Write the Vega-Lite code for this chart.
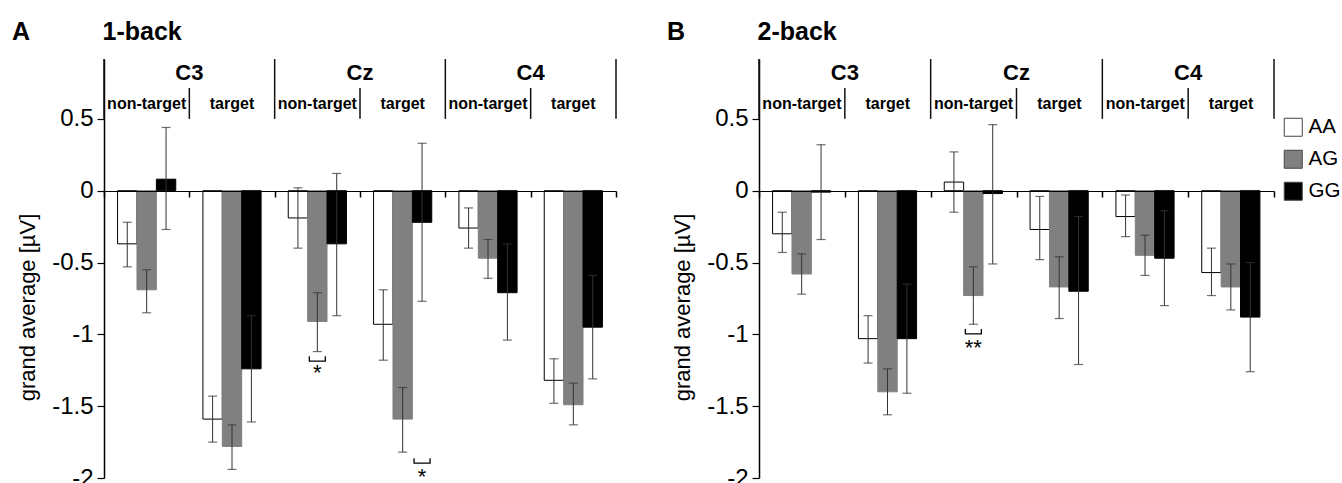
{
  "$schema": "https://vega.github.io/schema/vega-lite/v6.json",
  "padding": {"left": 12, "top": 20, "right": 0, "bottom": 0},
  "spacing": 50,
  "resolve": {"scale": {"fill": "shared", "stroke": "shared"}, "legend": {"fill": "independent"}},
  "config": {"view": {"stroke": null}, "font": "Liberation Sans", "axis": {"grid": false}},
  "datasets": {
    "bars": [
      {"panel": "A", "grp": "C3 non-target", "g": "AA", "v": -0.37, "hi": -0.22, "lo": -0.53},
      {"panel": "A", "grp": "C3 non-target", "g": "AG", "v": -0.69, "hi": -0.55, "lo": -0.85},
      {"panel": "A", "grp": "C3 non-target", "g": "GG", "v": 0.08, "hi": 0.44, "lo": -0.27},
      {"panel": "A", "grp": "C3 target", "g": "AA", "v": -1.59, "hi": -1.43, "lo": -1.75},
      {"panel": "A", "grp": "C3 target", "g": "AG", "v": -1.78, "hi": -1.63, "lo": -1.94},
      {"panel": "A", "grp": "C3 target", "g": "GG", "v": -1.24, "hi": -0.87, "lo": -1.61},
      {"panel": "A", "grp": "Cz non-target", "g": "AA", "v": -0.19, "hi": 0.02, "lo": -0.40},
      {"panel": "A", "grp": "Cz non-target", "g": "AG", "v": -0.91, "hi": -0.71, "lo": -1.12},
      {"panel": "A", "grp": "Cz non-target", "g": "GG", "v": -0.37, "hi": 0.12, "lo": -0.87},
      {"panel": "A", "grp": "Cz target", "g": "AA", "v": -0.93, "hi": -0.69, "lo": -1.18},
      {"panel": "A", "grp": "Cz target", "g": "AG", "v": -1.59, "hi": -1.37, "lo": -1.82},
      {"panel": "A", "grp": "Cz target", "g": "GG", "v": -0.22, "hi": 0.33, "lo": -0.77},
      {"panel": "A", "grp": "C4 non-target", "g": "AA", "v": -0.26, "hi": -0.12, "lo": -0.40},
      {"panel": "A", "grp": "C4 non-target", "g": "AG", "v": -0.47, "hi": -0.34, "lo": -0.61},
      {"panel": "A", "grp": "C4 non-target", "g": "GG", "v": -0.71, "hi": -0.37, "lo": -1.04},
      {"panel": "A", "grp": "C4 target", "g": "AA", "v": -1.32, "hi": -1.17, "lo": -1.48},
      {"panel": "A", "grp": "C4 target", "g": "AG", "v": -1.49, "hi": -1.34, "lo": -1.63},
      {"panel": "A", "grp": "C4 target", "g": "GG", "v": -0.95, "hi": -0.59, "lo": -1.31},
      {"panel": "B", "grp": "C3 non-target", "g": "AA", "v": -0.30, "hi": -0.15, "lo": -0.43},
      {"panel": "B", "grp": "C3 non-target", "g": "AG", "v": -0.58, "hi": -0.44, "lo": -0.72},
      {"panel": "B", "grp": "C3 non-target", "g": "GG", "v": -0.01, "hi": 0.32, "lo": -0.34},
      {"panel": "B", "grp": "C3 target", "g": "AA", "v": -1.03, "hi": -0.87, "lo": -1.20},
      {"panel": "B", "grp": "C3 target", "g": "AG", "v": -1.40, "hi": -1.24, "lo": -1.56},
      {"panel": "B", "grp": "C3 target", "g": "GG", "v": -1.03, "hi": -0.65, "lo": -1.41},
      {"panel": "B", "grp": "Cz non-target", "g": "AA", "v": 0.06, "hi": 0.27, "lo": -0.15},
      {"panel": "B", "grp": "Cz non-target", "g": "AG", "v": -0.73, "hi": -0.53, "lo": -0.93},
      {"panel": "B", "grp": "Cz non-target", "g": "GG", "v": -0.02, "hi": 0.46, "lo": -0.51},
      {"panel": "B", "grp": "Cz target", "g": "AA", "v": -0.27, "hi": -0.04, "lo": -0.48},
      {"panel": "B", "grp": "Cz target", "g": "AG", "v": -0.67, "hi": -0.46, "lo": -0.89},
      {"panel": "B", "grp": "Cz target", "g": "GG", "v": -0.70, "hi": -0.18, "lo": -1.21},
      {"panel": "B", "grp": "C4 non-target", "g": "AA", "v": -0.18, "hi": -0.03, "lo": -0.32},
      {"panel": "B", "grp": "C4 non-target", "g": "AG", "v": -0.45, "hi": -0.31, "lo": -0.59},
      {"panel": "B", "grp": "C4 non-target", "g": "GG", "v": -0.47, "hi": -0.14, "lo": -0.80},
      {"panel": "B", "grp": "C4 target", "g": "AA", "v": -0.57, "hi": -0.40, "lo": -0.73},
      {"panel": "B", "grp": "C4 target", "g": "AG", "v": -0.67, "hi": -0.51, "lo": -0.83},
      {"panel": "B", "grp": "C4 target", "g": "GG", "v": -0.88, "hi": -0.50, "lo": -1.26}
    ],
    "hdr": [
      {"grp": "C3 non-target", "electrode": "C3", "cond": "non-target"},
      {"grp": "C3 target", "electrode": "C3", "cond": "target"},
      {"grp": "Cz non-target", "electrode": "Cz", "cond": "non-target"},
      {"grp": "Cz target", "electrode": "Cz", "cond": "target"},
      {"grp": "C4 non-target", "electrode": "C4", "cond": "non-target"},
      {"grp": "C4 target", "electrode": "C4", "cond": "target"}
    ],
    "sig": [
      {"panel": "A", "grp": "Cz non-target", "g": "AG", "by": -1.17, "sy": -1.235, "txt": "*"},
      {"panel": "A", "grp": "Cz target", "g": "GG", "by": -1.88, "sy": -1.96, "txt": "*"},
      {"panel": "B", "grp": "Cz non-target", "g": "AG", "by": -0.98, "sy": -1.06, "txt": "**"}
    ]
  },
  "hconcat": [
    {
      "width": 512,
      "height": 419,
      "title": {"text": "A\u2003\u2003\u2002\u2009\u20091-back", "anchor": "start", "frame": "group", "dx": -92, "fontSize": 25, "fontWeight": "bold", "font": "Liberation Sans", "color": "#000", "baseline": "alphabetic", "offset": -7},
      "layer": [
        {
          "data": {"name": "bars"},
          "transform": [{"filter": "datum.panel == 'A'"}],
          "mark": {"type": "bar", "strokeWidth": 1},
          "encoding": {
            "x": {"field": "grp", "type": "nominal", "scale": {"domain": ["C3 non-target", "C3 target", "Cz non-target", "Cz target", "C4 non-target", "C4 target"], "paddingInner": 0, "paddingOuter": 0},
              "axis": {"orient": "bottom", "offset": -287, "labels": false, "title": null, "domainColor": "#000", "domainWidth": 1.2, "ticks": true, "tickBand": "extent", "tickSize": 6, "tickColor": "#000", "tickWidth": 1.5, "zindex": 1}},
            "xOffset": {"field": "g", "type": "nominal", "scale": {"paddingOuter": 0.7, "paddingInner": 0}},
            "y": {"field": "v", "type": "quantitative", "scale": {"domain": [-2, 0.9167], "nice": false, "zero": false},
              "axis": {"values": [0.5, 0, -0.5, -1, -1.5, -2], "labelExpr": "'' + datum.value", "labelFontSize": 24, "labelColor": "#000", "labelPadding": 4, "tickSize": 7, "tickColor": "#000", "tickWidth": 1.2, "domainColor": "#000", "domainWidth": 1.5, "title": "grand average [µV]", "titleFontSize": 22, "titleFontWeight": "normal", "titleColor": "#000", "titleY": 248, "titlePadding": 12}},
            "fill": {"field": "g", "type": "nominal", "scale": {"domain": ["AA", "AG", "GG"], "range": ["#ffffff", "#808080", "#000000"]}, "legend": null},
            "stroke": {"field": "g", "type": "nominal", "scale": {"domain": ["AA", "AG", "GG"], "range": ["#000000", "#808080", "#000000"]}, "legend": null}
          }
        },
        {
          "data": {"name": "bars"},
          "transform": [{"filter": "datum.panel == 'A'"}],
          "mark": {"type": "rule", "color": "#333", "strokeWidth": 1},
          "encoding": {
            "x": {"field": "grp", "type": "nominal"},
            "xOffset": {"field": "g", "type": "nominal"},
            "y": {"field": "lo", "type": "quantitative"},
            "y2": {"field": "hi"}
          }
        },
        {
          "data": {"name": "bars"},
          "transform": [{"filter": "datum.panel == 'A'"}],
          "mark": {"type": "tick", "color": "#333", "size": 9, "thickness": 1.2, "orient": "horizontal"},
          "encoding": {
            "x": {"field": "grp", "type": "nominal"},
            "xOffset": {"field": "g", "type": "nominal"},
            "y": {"field": "lo", "type": "quantitative"}
          }
        },
        {
          "data": {"name": "bars"},
          "transform": [{"filter": "datum.panel == 'A'"}],
          "mark": {"type": "tick", "color": "#333", "size": 9, "thickness": 1.2, "orient": "horizontal"},
          "encoding": {
            "x": {"field": "grp", "type": "nominal"},
            "xOffset": {"field": "g", "type": "nominal"},
            "y": {"field": "hi", "type": "quantitative"}
          }
        },
        {
          "mark": {"type": "rule", "color": "#111", "strokeWidth": 1.5},
          "encoding": {"y": {"datum": 0.5}}
        },
        {
          "data": {"name": "hdr"},
          "transform": [{"filter": "datum.cond == 'non-target'"}],
          "mark": {"type": "rule", "color": "#111", "strokeWidth": 1.5},
          "encoding": {"x": {"field": "grp", "type": "nominal", "bandPosition": 0}, "y": {"datum": 0.5}, "y2": {"datum": 0.9167}}
        },
        {
          "data": {"name": "hdr"},
          "transform": [{"filter": "datum.grp == 'C4 target'"}],
          "mark": {"type": "rule", "color": "#111", "strokeWidth": 1.5},
          "encoding": {"x": {"field": "grp", "type": "nominal", "bandPosition": 1}, "y": {"datum": 0.5}, "y2": {"datum": 0.9167}}
        },
        {
          "data": {"name": "hdr"},
          "transform": [{"filter": "datum.cond == 'target'"}],
          "mark": {"type": "rule", "color": "#111", "strokeWidth": 1.5},
          "encoding": {"x": {"field": "grp", "type": "nominal", "bandPosition": 0}, "y": {"datum": 0.5}, "y2": {"datum": 0.715}}
        },
        {
          "data": {"name": "hdr"},
          "transform": [{"filter": "datum.cond == 'target'"}],
          "mark": {"type": "text", "fontSize": 22, "fontWeight": "bold", "color": "#000", "baseline": "middle"},
          "encoding": {"x": {"field": "grp", "type": "nominal", "bandPosition": 0}, "y": {"datum": 0.82}, "text": {"field": "electrode"}}
        },
        {
          "data": {"name": "hdr"},
          "mark": {"type": "text", "fontSize": 16, "fontWeight": "bold", "color": "#000", "baseline": "middle"},
          "encoding": {"x": {"field": "grp", "type": "nominal"}, "y": {"datum": 0.604}, "text": {"field": "cond"}}
        },
        {
          "data": {"name": "sig"},
          "transform": [{"filter": "datum.panel == 'A'"}],
          "mark": {"type": "point", "shape": "M-1,-0.3L-1,0.3L1,0.3L1,-0.3", "size": 256, "filled": false, "color": "#000", "strokeWidth": 1.3, "opacity": 1},
          "encoding": {"x": {"field": "grp", "type": "nominal"}, "xOffset": {"field": "g", "type": "nominal"}, "y": {"field": "by", "type": "quantitative"}}
        },
        {
          "data": {"name": "sig"},
          "transform": [{"filter": "datum.panel == 'A'"}],
          "mark": {"type": "text", "fontSize": 22, "color": "#000", "baseline": "alphabetic", "dy": 12},
          "encoding": {"x": {"field": "grp", "type": "nominal"}, "xOffset": {"field": "g", "type": "nominal"}, "y": {"field": "sy", "type": "quantitative"}, "text": {"field": "txt"}}
        }
      ]
    },
    {
      "width": 515,
      "height": 419,
      "title": {"text": "B\u2003\u2003\u2002\u2009\u20092-back", "anchor": "start", "frame": "group", "dx": -92, "fontSize": 25, "fontWeight": "bold", "font": "Liberation Sans", "color": "#000", "baseline": "alphabetic", "offset": -7},
      "layer": [
        {
          "data": {"name": "bars"},
          "transform": [{"filter": "datum.panel == 'B'"}],
          "mark": {"type": "bar", "strokeWidth": 1},
          "encoding": {
            "x": {"field": "grp", "type": "nominal", "scale": {"domain": ["C3 non-target", "C3 target", "Cz non-target", "Cz target", "C4 non-target", "C4 target"], "paddingInner": 0, "paddingOuter": 0},
              "axis": {"orient": "bottom", "offset": -287, "labels": false, "title": null, "domainColor": "#000", "domainWidth": 1.2, "ticks": true, "tickBand": "extent", "tickSize": 6, "tickColor": "#000", "tickWidth": 1.5, "zindex": 1}},
            "xOffset": {"field": "g", "type": "nominal", "scale": {"paddingOuter": 0.7, "paddingInner": 0}},
            "y": {"field": "v", "type": "quantitative", "scale": {"domain": [-2, 0.9167], "nice": false, "zero": false},
              "axis": {"values": [0.5, 0, -0.5, -1, -1.5, -2], "labelExpr": "'' + datum.value", "labelFontSize": 24, "labelColor": "#000", "labelPadding": 4, "tickSize": 7, "tickColor": "#000", "tickWidth": 1.2, "domainColor": "#000", "domainWidth": 1.5, "title": "grand average [µV]", "titleFontSize": 22, "titleFontWeight": "normal", "titleColor": "#000", "titleY": 248, "titlePadding": 12}},
            "fill": {"field": "g", "type": "nominal", "scale": {"domain": ["AA", "AG", "GG"], "range": ["#ffffff", "#808080", "#000000"]},
              "legend": {"orient": "none", "legendX": 524, "legendY": 58, "title": null, "symbolType": "square", "symbolSize": 324, "symbolStrokeColor": "#444", "symbolStrokeWidth": 1, "labelFontSize": 20.5, "labelColor": "#000", "labelOffset": 5, "rowPadding": 9, "padding": 0}},
            "stroke": {"field": "g", "type": "nominal", "scale": {"domain": ["AA", "AG", "GG"], "range": ["#000000", "#808080", "#000000"]}, "legend": null}
          }
        },
        {
          "data": {"name": "bars"},
          "transform": [{"filter": "datum.panel == 'B'"}],
          "mark": {"type": "rule", "color": "#333", "strokeWidth": 1},
          "encoding": {
            "x": {"field": "grp", "type": "nominal"},
            "xOffset": {"field": "g", "type": "nominal"},
            "y": {"field": "lo", "type": "quantitative"},
            "y2": {"field": "hi"}
          }
        },
        {
          "data": {"name": "bars"},
          "transform": [{"filter": "datum.panel == 'B'"}],
          "mark": {"type": "tick", "color": "#333", "size": 9, "thickness": 1.2, "orient": "horizontal"},
          "encoding": {
            "x": {"field": "grp", "type": "nominal"},
            "xOffset": {"field": "g", "type": "nominal"},
            "y": {"field": "lo", "type": "quantitative"}
          }
        },
        {
          "data": {"name": "bars"},
          "transform": [{"filter": "datum.panel == 'B'"}],
          "mark": {"type": "tick", "color": "#333", "size": 9, "thickness": 1.2, "orient": "horizontal"},
          "encoding": {
            "x": {"field": "grp", "type": "nominal"},
            "xOffset": {"field": "g", "type": "nominal"},
            "y": {"field": "hi", "type": "quantitative"}
          }
        },
        {
          "mark": {"type": "rule", "color": "#111", "strokeWidth": 1.5},
          "encoding": {"y": {"datum": 0.5}}
        },
        {
          "data": {"name": "hdr"},
          "transform": [{"filter": "datum.cond == 'non-target'"}],
          "mark": {"type": "rule", "color": "#111", "strokeWidth": 1.5},
          "encoding": {"x": {"field": "grp", "type": "nominal", "bandPosition": 0}, "y": {"datum": 0.5}, "y2": {"datum": 0.9167}}
        },
        {
          "data": {"name": "hdr"},
          "transform": [{"filter": "datum.grp == 'C4 target'"}],
          "mark": {"type": "rule", "color": "#111", "strokeWidth": 1.5},
          "encoding": {"x": {"field": "grp", "type": "nominal", "bandPosition": 1}, "y": {"datum": 0.5}, "y2": {"datum": 0.9167}}
        },
        {
          "data": {"name": "hdr"},
          "transform": [{"filter": "datum.cond == 'target'"}],
          "mark": {"type": "rule", "color": "#111", "strokeWidth": 1.5},
          "encoding": {"x": {"field": "grp", "type": "nominal", "bandPosition": 0}, "y": {"datum": 0.5}, "y2": {"datum": 0.715}}
        },
        {
          "data": {"name": "hdr"},
          "transform": [{"filter": "datum.cond == 'target'"}],
          "mark": {"type": "text", "fontSize": 22, "fontWeight": "bold", "color": "#000", "baseline": "middle"},
          "encoding": {"x": {"field": "grp", "type": "nominal", "bandPosition": 0}, "y": {"datum": 0.82}, "text": {"field": "electrode"}}
        },
        {
          "data": {"name": "hdr"},
          "mark": {"type": "text", "fontSize": 16, "fontWeight": "bold", "color": "#000", "baseline": "middle"},
          "encoding": {"x": {"field": "grp", "type": "nominal"}, "y": {"datum": 0.604}, "text": {"field": "cond"}}
        },
        {
          "data": {"name": "sig"},
          "transform": [{"filter": "datum.panel == 'B'"}],
          "mark": {"type": "point", "shape": "M-1,-0.3L-1,0.3L1,0.3L1,-0.3", "size": 256, "filled": false, "color": "#000", "strokeWidth": 1.3, "opacity": 1},
          "encoding": {"x": {"field": "grp", "type": "nominal"}, "xOffset": {"field": "g", "type": "nominal"}, "y": {"field": "by", "type": "quantitative"}}
        },
        {
          "data": {"name": "sig"},
          "transform": [{"filter": "datum.panel == 'B'"}],
          "mark": {"type": "text", "fontSize": 22, "color": "#000", "baseline": "alphabetic", "dy": 12},
          "encoding": {"x": {"field": "grp", "type": "nominal"}, "xOffset": {"field": "g", "type": "nominal"}, "y": {"field": "sy", "type": "quantitative"}, "text": {"field": "txt"}}
        }
      ]
    }
  ]
}
